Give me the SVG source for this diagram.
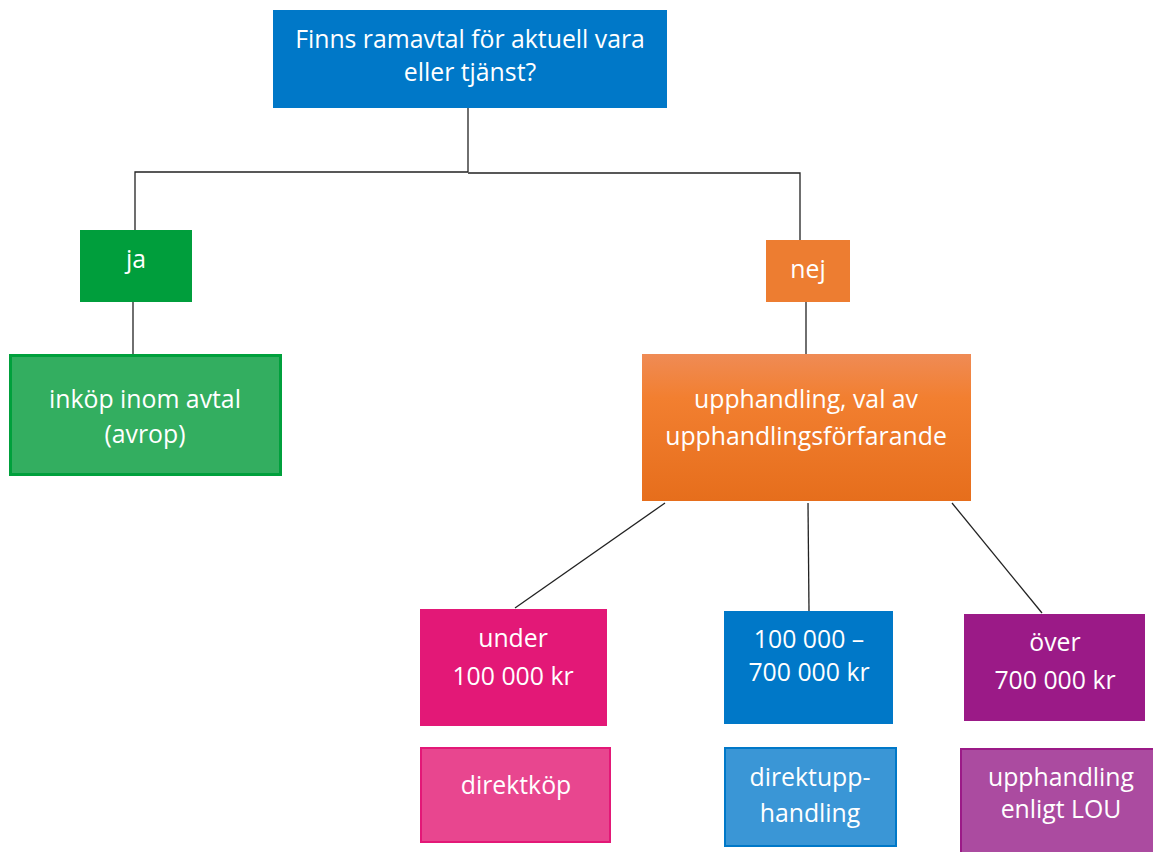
<svg xmlns="http://www.w3.org/2000/svg" width="1153" height="852" viewBox="0 0 1153 852">
<style>
text{font-family:"Open Sans","Noto Sans","Liberation Sans",sans-serif;font-size:24.8px;fill:#fff;text-anchor:middle}
.ln{stroke:#222;stroke-width:1.3;fill:none}
</style>
<defs>
<linearGradient id="og" x1="0" y1="0" x2="0" y2="1">
<stop offset="0" stop-color="#EF8B55"/>
<stop offset="0.3" stop-color="#F27F30"/>
<stop offset="1" stop-color="#E66E1C"/>
</linearGradient>
</defs>
<rect width="1153" height="852" fill="#fff"/>
<g id="connectors">
<path class="ln" d="M468,105 V172"/>
<path class="ln" d="M135,230 V172 H468 M468,173 H800 V240"/>
<path class="ln" d="M133,302 V354"/>
<path class="ln" d="M806,302 V354"/>
<path class="ln" d="M665,503 L515,608"/>
<path class="ln" d="M808,503 L809,611"/>
<path class="ln" d="M952,503 L1042,613"/>
</g>
<g id="q">
<rect x="273" y="10" width="394" height="98" fill="#0078C8"/>
<text x="470" y="48">Finns ramavtal för aktuell vara</text>
<text x="470" y="81">eller tjänst?</text>
</g>
<g id="ja">
<rect x="80" y="230" width="112" height="72" fill="#009E3C"/>
<text x="136" y="268">ja</text>
</g>
<g id="inkop">
<rect x="10.5" y="355.5" width="270" height="119" fill="#33AE60" stroke="#00A03C" stroke-width="3"/>
<text x="145" y="408">inköp inom avtal</text>
<text x="145" y="443">(avrop)</text>
</g>
<g id="nej">
<rect x="766" y="240" width="84" height="62" fill="#ED7D31"/>
<text x="808" y="278">nej</text>
</g>
<g id="upph">
<rect x="642" y="354" width="329" height="147" fill="url(#og)"/>
<text x="806" y="408">upphandling, val av</text>
<text x="806" y="445">upphandlingsförfarande</text>
</g>
<g id="under">
<rect x="420" y="609" width="187" height="117" fill="#E31877"/>
<text x="513" y="647">under</text>
<text x="513" y="685">100 000 kr</text>
</g>
<g id="mellan">
<rect x="724" y="611" width="169" height="113" fill="#0078C8"/>
<text x="809" y="648">100 000 –</text>
<text x="809" y="681">700 000 kr</text>
</g>
<g id="over">
<rect x="964" y="614" width="181" height="107" fill="#9B1A87"/>
<text x="1055" y="651">över</text>
<text x="1055" y="689">700 000 kr</text>
</g>
<g id="direktkop">
<rect x="421" y="748" width="189" height="94" fill="#E8468F" stroke="#E31877" stroke-width="2"/>
<text x="516" y="794">direktköp</text>
</g>
<g id="direktupp">
<rect x="725" y="748" width="171" height="98" fill="#3A96D6" stroke="#0078C8" stroke-width="2"/>
<text x="810" y="786">direktupp-</text>
<text x="810" y="822">handling</text>
</g>
<g id="lou">
<rect x="961" y="749" width="196" height="106" fill="#AB4BA0" stroke="#9B1A87" stroke-width="2"/>
<text x="1061" y="786">upphandling</text>
<text x="1061" y="818">enligt LOU</text>
</g>
</svg>
